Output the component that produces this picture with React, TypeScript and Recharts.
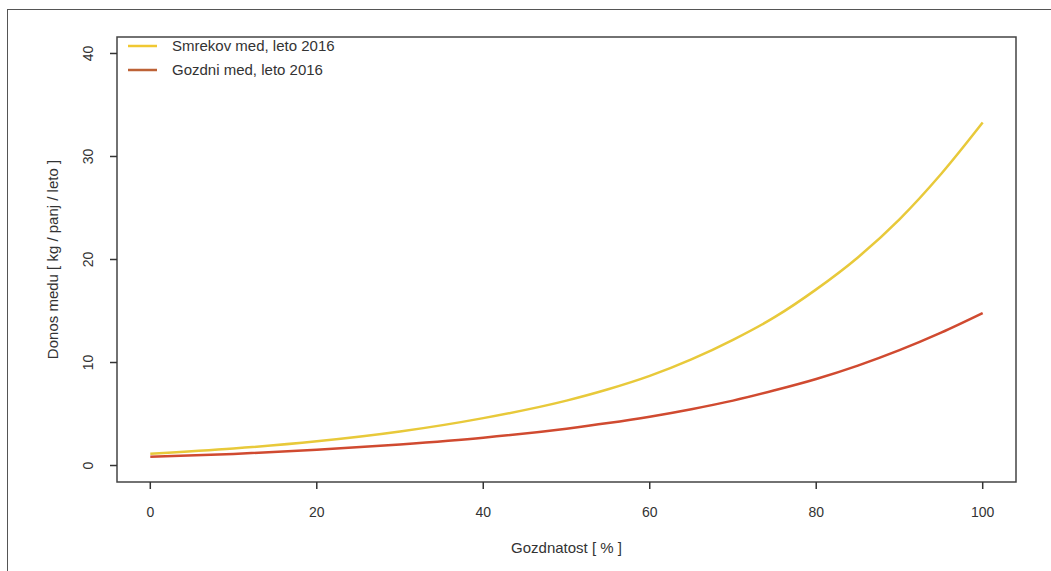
import React from 'react';
import { LineChart, Line, XAxis, YAxis, ReferenceArea, Legend, Label } from 'recharts';

// Gozdnatost [%] on the x axis
const gozdnatost = [0, 10, 20, 30, 40, 50, 55, 60, 65, 70, 75, 80, 85, 90, 95, 100];
// Donos medu [kg / panj / leto]
const smrekovMed = [1.15, 1.65, 2.35, 3.3, 4.6, 6.3, 7.4, 8.7, 10.3, 12.2, 14.4, 17.1, 20.2, 23.9, 28.3, 33.3];
const gozdniMed = [0.85, 1.13, 1.52, 2.05, 2.7, 3.58, 4.12, 4.74, 5.47, 6.3, 7.3, 8.4, 9.7, 11.2, 12.9, 14.8];

const xTicks = [0, 20, 40, 60, 80, 100];
const yTicks = [0, 10, 20, 30, 40];

const seriesNames = ['Smrekov med, leto 2016', 'Gozdni med, leto 2016'];

const data = gozdnatost.map((g, i) => ({
  g,
  smrekov: smrekovMed[i],
  gozdni: gozdniMed[i],
}));

const YELLOW = '#e8c93a';
const RED = '#d04a30';
const INK = '#333';

const YTick = (props: any) => {
  const { x, y, payload } = props;
  return (
    <g transform={`translate(${x - 20},${y}) rotate(-90)`}>
      <text textAnchor="middle" dy="0.36em" fontSize={14} fill={INK}>
        {payload.value}
      </text>
    </g>
  );
};

const LegendBox = () => (
  <svg width={230} height={50}>
    <line x1={8} x2={37} y1={12} y2={12} stroke="#f0c832" strokeWidth={2.5} />
    <line x1={8} x2={37} y1={36} y2={36} stroke="#bd6236" strokeWidth={2.5} />
    <text x={52} y={12} dy="0.36em" fontSize={15} fill={INK}>{seriesNames[0]}</text>
    <text x={52} y={36} dy="0.36em" fontSize={15} fill={INK}>{seriesNames[1]}</text>
  </svg>
);

export default function App() {
  return (
    <div
      style={{
        position: 'absolute',
        left: 0,
        top: 0,
        width: 1051,
        height: 571,
        overflow: 'hidden',
        background: '#fff',
        fontFamily: '"Liberation Sans", Arial, sans-serif',
      }}
    >
      {/* outer page frame */}
      <div
        style={{
          position: 'absolute',
          left: 7,
          top: 9,
          width: 1100,
          height: 600,
          border: '1.5px solid #555',
        }}
      />
      <LineChart
        width={1051}
        height={571}
        data={data}
        margin={{ top: 37, right: 35, bottom: 0, left: 0 }}
        style={{ position: 'absolute', left: 0, top: 0 }}
      >
        <XAxis
          type="number"
          dataKey="g"
          domain={[-4, 104]}
          ticks={xTicks}
          allowDataOverflow
          axisLine={false}
          tickSize={7}
          tickMargin={18}
          height={89}
          tickLine={{ stroke: INK, strokeWidth: 1.5 }}
          tick={{ fill: INK, fontSize: 14 }}
        >
          <Label
            content={(p: any) => {
              const vb = p.viewBox;
              return (
                <text x={vb.x + vb.width / 2} y={vb.y + 66} dy="0.36em" textAnchor="middle" fontSize={15} fill={INK}>
                  Gozdnatost [ % ]
                </text>
              );
            }}
          />
        </XAxis>
        <YAxis
          type="number"
          domain={[-1.6, 41.6]}
          ticks={yTicks}
          allowDataOverflow
          axisLine={false}
          width={117}
          tickSize={7}
          tickMargin={2}
          tickLine={{ stroke: INK, strokeWidth: 1.5 }}
          tick={<YTick />}
        >
          <Label
            content={(p: any) => {
              const vb = p.viewBox;
              const cy = vb.y + vb.height / 2;
              return (
                <g transform={`translate(53,${cy}) rotate(-90)`}>
                  <text textAnchor="middle" dy="0.36em" fontSize={15} fill={INK}>
                    Donos medu [ kg / panj / leto ]
                  </text>
                </g>
              );
            }}
          />
        </YAxis>
        <ReferenceArea
          x1={-4}
          x2={104}
          y1={-1.6}
          y2={41.6}
          fill="none"
          fillOpacity={0}
          stroke="#444"
          strokeWidth={1.5}
          ifOverflow="visible"
        />
        <Legend
          layout="vertical"
          align="center"
          verticalAlign="middle"
          wrapperStyle={{ left: 120, top: 34, width: 230, height: 50 }}
          content={() => <LegendBox />}
        />
        <Line
          type="monotone"
          dataKey="smrekov"
          name={seriesNames[0]}
          stroke={YELLOW}
          strokeWidth={2.5}
          dot={false}
          isAnimationActive={false}
        />
        <Line
          type="monotone"
          dataKey="gozdni"
          name={seriesNames[1]}
          stroke={RED}
          strokeWidth={2.5}
          dot={false}
          isAnimationActive={false}
        />
      </LineChart>
    </div>
  );
}
